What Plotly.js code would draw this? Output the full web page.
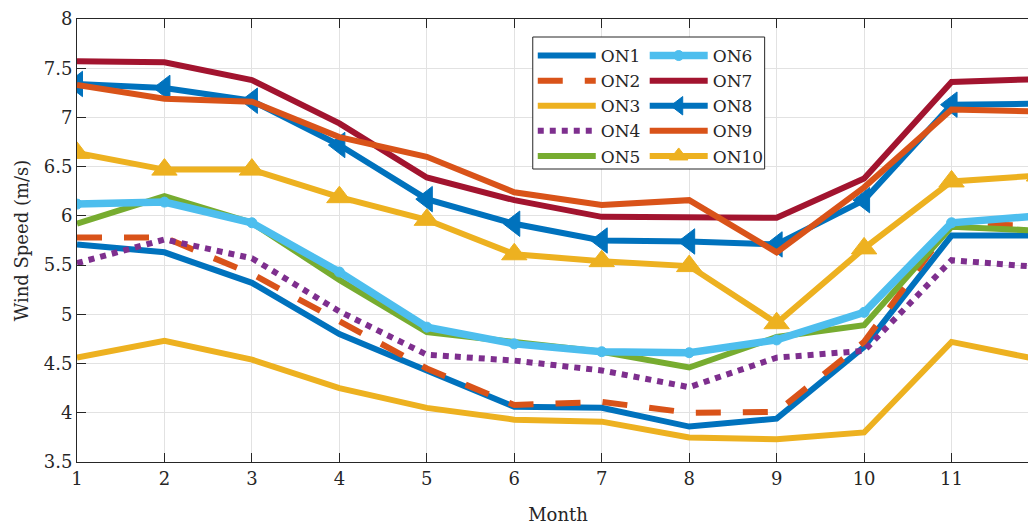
<!DOCTYPE html>
<html>
<head>
<meta charset="utf-8">
<script src="https://cdn.plot.ly/plotly-3.0.1.min.js"></script>
<style>
html,body{margin:0;padding:0;overflow:hidden;background:#fff;}
#chart{width:1050px;height:527px;}
</style>
</head>
<body>
<div id="chart"></div>
<script>
const months = [1,2,3,4,5,6,7,8,9,10,11,12];
const seriesNames = ['ON1','ON2','ON3','ON4','ON5','ON6','ON7','ON8','ON9','ON10'];
const ON1  = [5.71, 5.63, 5.32, 4.80, 4.43, 4.06, 4.05, 3.86, 3.94, 4.67, 5.80, 5.80];
const ON2  = [5.78, 5.78, 5.41, 4.93, 4.45, 4.08, 4.11, 4.00, 4.01, 4.72, 5.92, 5.90];
const ON3  = [4.56, 4.73, 4.54, 4.25, 4.05, 3.93, 3.91, 3.75, 3.73, 3.80, 4.72, 4.54];
const ON4  = [5.52, 5.76, 5.57, 5.03, 4.59, 4.53, 4.43, 4.26, 4.56, 4.63, 5.55, 5.48];
const ON5  = [5.92, 6.20, 5.93, 5.35, 4.82, 4.72, 4.62, 4.46, 4.77, 4.89, 5.89, 5.85];
const ON6  = [6.12, 6.14, 5.93, 5.43, 4.87, 4.70, 4.62, 4.61, 4.74, 5.02, 5.93, 6.00];
const ON7  = [7.57, 7.56, 7.38, 6.94, 6.39, 6.16, 5.99, 5.98, 5.98, 6.38, 7.36, 7.39];
const ON8  = [7.34, 7.30, 7.17, 6.72, 6.17, 5.92, 5.75, 5.74, 5.71, 6.16, 7.13, 7.14];
const ON9  = [7.33, 7.19, 7.16, 6.80, 6.60, 6.24, 6.11, 6.16, 5.63, 6.29, 7.08, 7.06];
const ON10 = [6.64, 6.47, 6.47, 6.19, 5.96, 5.61, 5.54, 5.49, 4.91, 5.67, 6.35, 6.41];
const xTicks = [1,2,3,4,5,6,7,8,9,10,11,12];
const yTicks = [3.5,4,4.5,5,5.5,6,6.5,7,7.5,8];

const values = [ON1,ON2,ON3,ON4,ON5,ON6,ON7,ON8,ON9,ON10];
const styles = [
  {color:'#0072BD', width:6, dash:'solid', mode:'lines'},
  {color:'#D95319', width:6, dash:'25px,22px', mode:'lines'},
  {color:'#EDB120', width:6, dash:'solid', mode:'lines'},
  {color:'#7E2F8E', width:6, dash:'dot', mode:'lines'},
  {color:'#77AC30', width:6, dash:'solid', mode:'lines'},
  {color:'#4DBEEE', width:7.5, dash:'solid', mode:'lines+markers', symbol:'circle', size:10},
  {color:'#A2142F', width:6, dash:'solid', mode:'lines'},
  {color:'#0072BD', width:6, dash:'solid', mode:'lines+markers', symbol:'triangle-left', size:22},
  {color:'#D95319', width:6, dash:'solid', mode:'lines'},
  {color:'#EDB120', width:6, dash:'solid', mode:'lines+markers', symbol:'triangle-up', size:22}
];

const traces = values.map((v,i)=>{
  const s = styles[i];
  const t = {
    x: months, y: v, name: seriesNames[i], type:'scatter', mode:s.mode,
    line:{color:s.color, width:s.width, dash:s.dash},
    legend: i < 5 ? 'legend' : 'legend2',
    cliponaxis: true
  };
  if (s.symbol) t.marker = {symbol:s.symbol, size:s.size, color:s.color, line:{color:s.color, width:1}};
  return t;
});

const mkFont = (sz) => ({family:'DejaVu Serif', size:sz || 18, color:'#262626'});
const W = 1050, L = 77, R = W - 77 - 962.5, T = 19, B = 65;
const pw = 962.5, ph = 443;
const px = v => (v - L) / pw;
const py = v => (527 - B - v) / ph;

const mkLegend = (x) => ({
  x: x, y: py(38),
  font: mkFont(17), bgcolor:'rgba(0,0,0,0)', borderwidth:0, itemwidth:58,
  xanchor:'left', yanchor:'top', tracegroupgap:0
});

const layout = {
  width: W, height: 527,
  margin:{l:L, r:R, t:T, b:B},
  paper_bgcolor:'#fff', plot_bgcolor:'#fff',
  font: mkFont(),
  showlegend: true,
  xaxis:{
    range:[1,12], tickvals:xTicks, ticktext:xTicks.map(String),
    showgrid:true, gridcolor:'#e2e2e2', gridwidth:1,
    showline:true, linecolor:'#262626', linewidth:1, mirror:'ticks',
    ticks:'inside', ticklen:9, tickcolor:'#262626', tickfont:mkFont(),
    zeroline:false,
    title:{text:'Month', font:mkFont(), standoff:20}
  },
  yaxis:{
    range:[3.5,8], tickvals:yTicks, ticktext:yTicks.map(String),
    showgrid:true, gridcolor:'#e2e2e2', gridwidth:1,
    showline:true, linecolor:'#262626', linewidth:1, mirror:'ticks',
    ticks:'inside', ticklen:9, tickcolor:'#262626', tickfont:mkFont(),
    zeroline:false,
    title:{text:'Wind Speed (m/s)', font:mkFont(), standoff:10}
  },
  legend: mkLegend(px(533)),
  legend2: mkLegend(px(645)),
  shapes:[{
    type:'rect', xref:'paper', yref:'paper', layer:'above',
    x0:px(533), x1:px(765), y0:py(169), y1:py(37),
    line:{color:'#262626', width:1}, fillcolor:'#ffffff'
  }]
};

Plotly.newPlot('chart', traces, layout, {displayModeBar:false, staticPlot:true});
</script>
</body>
</html>
